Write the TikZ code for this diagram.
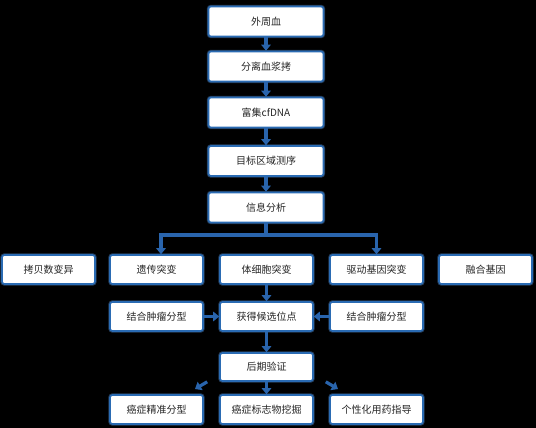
\documentclass[tikz,border=0pt]{standalone}
\usepackage{fontspec}
\setmainfont{Noto Sans CJK SC}
\usetikzlibrary{arrows.meta}
\definecolor{boxblue}{HTML}{2A6BB3}
\definecolor{glowblue}{HTML}{4F86C8}
\definecolor{arrblue}{HTML}{2964AC}
\definecolor{txtgray}{HTML}{262626}
\tikzset{every node/.style={font=\fontsize{10}{12}\selectfont, text=txtgray},
  stage/.style={draw=boxblue, line width=1.6pt, fill=white, rounded corners=2.5pt,
    preaction={draw=glowblue, draw opacity=0.45, line width=3.4pt},
    minimum width=115pt, minimum height=30pt, inner sep=0pt},
  item/.style={stage, minimum width=93pt, minimum height=29pt},
  link/.style={arrblue, line width=3.2pt},
  arrow/.style={link, -{Triangle[width=9.5pt,length=6pt]}}}

\begin{document}
\begin{tikzpicture}[x=1pt,y=-1pt]
   \fill[black] (0,0) rectangle (536,428);
   % main line
   \node[stage] (blood)  at (266, 21.5) {外周血};
   \node[stage] (plasma) at (266, 66.5) {分离血浆拷};
   \node[stage] (cfdna)  at (266,112.5) {富集cfDNA};
   \node[stage] (seq)    at (266,161.0) {目标区域测序};
   \node[stage] (info)   at (266,207.5) {信息分析};
   % variants
   \node[item] (cnv)    at ( 48.5,269.5) {拷贝数变异};
   \node[item] (germ)   at (156.5,269.5) {遗传突变};
   \node[item] (soma)   at (266.5,269.5) {体细胞突变};
   \node[item] (driver) at (376.5,269.5) {驱动基因突变};
   \node[item] (fusion) at (485.5,269.5) {融合基因};
   \node[item] (typeL) at (156.5,316.5) {结合肿瘤分型};
   \node[item] (site)  at (266.5,316.5) {获得候选位点};
   \node[item] (typeR) at (376.5,316.5) {结合肿瘤分型};
   \node[item, minimum height=28pt] (check) at (266.5,367) {后期验证};
   \node[item] (precise) at (156.5,409.5) {癌症精准分型};
   \node[item] (marker)  at (266.5,409.5) {癌症标志物挖掘};
   \node[item] (drug)    at (376.5,409.5) {个性化用药指导};
   \coordinate (fork) at (266,235);
   \coordinate (dl) at (195,389);
   \coordinate (dr) at (338,389);
   % connectors
   \draw[arrow] (blood) -- (plasma);
   \draw[arrow] (plasma) -- (cfdna);
   \draw[arrow] (cfdna) -- (seq);
   \draw[arrow] (seq) -- (info);
   \draw[link] (info) -- (fork);
   \draw[arrow] (fork) -| ([xshift=4.5pt]germ.north);
   \draw[arrow] (fork) -| (driver.north);
   \draw[arrow] (soma) -- (site);
   \draw[arrow] (typeL) -- (site);
   \draw[arrow] (typeR) -- (site);
   \draw[arrow] (site) -- (check);
   \draw[arrow] (check) -- (marker);
   \draw[arrow] ([xshift=-12pt]check.south west) -- (dl);
   \draw[arrow] ([xshift=12pt]check.south east) -- (dr);
\end{tikzpicture}
\end{document}
